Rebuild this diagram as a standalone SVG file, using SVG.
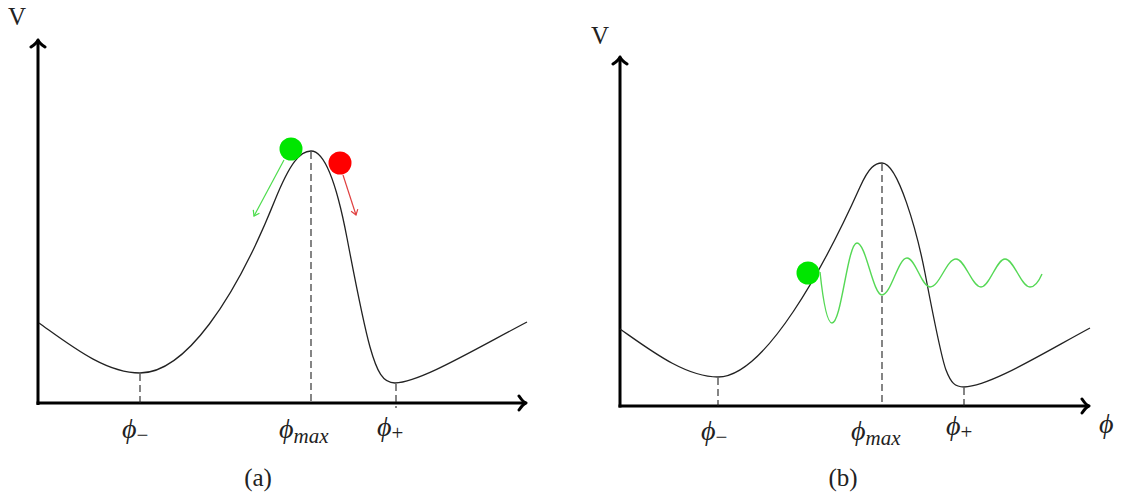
<svg xmlns="http://www.w3.org/2000/svg" width="1129" height="492" viewBox="0 0 1129 492">
<style>
.axis{stroke:#000;stroke-width:3;fill:none}
.curve{stroke:#222;stroke-width:1.3;fill:none}
.dash{stroke:#222;stroke-width:1.1;stroke-dasharray:7 4;fill:none}
.lbl{font-family:"Liberation Serif","DejaVu Serif",serif;fill:#222}
.phi{font-size:28px;font-style:italic;font-family:"Liberation Serif","DejaVu Serif",serif}
.sub{font-size:21px;font-style:normal;font-family:"Liberation Serif","DejaVu Serif",serif}
.subi{font-size:21px;font-style:italic;font-family:"Liberation Serif","DejaVu Serif",serif}
.cap{font-size:25px}
.V{font-size:25px}
</style>
<defs>
<marker id="ax" viewBox="-10 -9 12 18" markerWidth="12" markerHeight="18" refX="0" refY="0" orient="auto" markerUnits="userSpaceOnUse">
<path d="M -7 -7 Q -3 -1 0 0 Q -3 1 -7 7" stroke="#000" stroke-width="3" fill="none" stroke-linecap="round" stroke-linejoin="round"/>
</marker>
<marker id="ga" viewBox="-7 -5 8 10" markerWidth="8" markerHeight="10" refX="0" refY="0" orient="auto" markerUnits="userSpaceOnUse">
<path d="M -5 -3.5 L 0 0 L -5 3.5" stroke="#4cdc4c" stroke-width="1.2" fill="none"/>
</marker>
<marker id="ra" viewBox="-7 -5 8 10" markerWidth="8" markerHeight="10" refX="0" refY="0" orient="auto" markerUnits="userSpaceOnUse">
<path d="M -5 -3.5 L 0 0 L -5 3.5" stroke="#e04040" stroke-width="1.2" fill="none"/>
</marker>
</defs>

<g id="panel-a">
  <g id="axes-a">
    <line class="axis" x1="38" y1="405" x2="38" y2="40" marker-end="url(#ax)"/>
    <line class="axis" x1="36.5" y1="403" x2="526" y2="403" marker-end="url(#ax)"/>
    <text class="lbl V" x="8" y="25">V</text>
  </g>
  <g id="potential-a">
    <path class="curve" d="M 39 323 C 70 345 105 373 140 373 C 185 373 235 300 275 200 C 290 163 300 151 311 151 C 327 151 339 196 347 238 C 355 280 363 322 370 347 C 377 372 383 383 395 383 C 420 382 470 352 527 322"/>
  </g>
  <g id="markers-a">
    <line class="dash" x1="140" y1="374" x2="140" y2="403"/>
    <line class="dash" x1="311" y1="152" x2="311" y2="403"/>
    <line class="dash" x1="396" y1="384" x2="396" y2="408"/>
  </g>
  <g id="labels-a" class="lbl">
    <text x="122" y="438"><tspan class="phi">ϕ</tspan><tspan class="sub" dy="4">−</tspan></text>
    <text x="279" y="438"><tspan class="phi">ϕ</tspan><tspan class="subi" dy="5">max</tspan></text>
    <text x="377" y="436"><tspan class="phi">ϕ</tspan><tspan class="sub" dy="4">+</tspan></text>
    <text class="cap" x="258" y="486" text-anchor="middle">(a)</text>
  </g>
  <g id="ball-green-a">
    <circle cx="291" cy="149" r="11.5" fill="#00e600"/>
  </g>
  <g id="ball-red-a">
    <circle cx="340" cy="163" r="11.5" fill="#ff0000"/>
  </g>
  <g id="connectors-a">
    <line x1="284" y1="160" x2="254" y2="216" stroke="#4cdc4c" stroke-width="1.2" marker-end="url(#ga)"/>
    <line x1="343" y1="175" x2="356" y2="215" stroke="#e04040" stroke-width="1.2" marker-end="url(#ra)"/>
  </g>
</g>

<g id="panel-b">
  <g id="axes-b">
    <line class="axis" x1="620" y1="407.5" x2="620" y2="57" marker-end="url(#ax)"/>
    <line class="axis" x1="618.5" y1="406" x2="1089" y2="406" marker-end="url(#ax)"/>
    <text class="lbl V" x="591" y="44">V</text>
  </g>
  <g id="potential-b">
    <path class="curve" d="M 620 329 C 650 350 685 377 718 377 C 765 377 825 265 860 187 C 869 167 875 163 882 163 C 898 163 917 232 925 273 C 933 315 941 357 946 370 C 951 383 955 387 964 387 C 990 386 1040 355 1090 328"/>
  </g>
  <g id="markers-b">
    <line class="dash" x1="718" y1="378" x2="718" y2="406"/>
    <line class="dash" x1="882" y1="164" x2="882" y2="406"/>
    <line class="dash" x1="964" y1="388" x2="964" y2="410"/>
  </g>
  <g id="labels-b" class="lbl">
    <text x="701" y="440"><tspan class="phi">ϕ</tspan><tspan class="sub" dy="4">−</tspan></text>
    <text x="851" y="440"><tspan class="phi">ϕ</tspan><tspan class="subi" dy="5">max</tspan></text>
    <text x="946" y="435"><tspan class="phi">ϕ</tspan><tspan class="sub" dy="4">+</tspan></text>
    <text x="1099" y="433"><tspan class="phi">ϕ</tspan></text>
    <text class="cap" x="843" y="486" text-anchor="middle">(b)</text>
  </g>
  <g id="ball-green-b">
    <circle cx="808" cy="273" r="11.5" fill="#00e600"/>
  </g>
  <g id="wave-b">
    <path fill="none" stroke="#55d855" stroke-width="1.4" d="M 820 272 C 823 300 827 323 832 323 C 841.5 323 847.5 243 857 243 C 866 243 873 295 882 295 C 891 295 898 258 907 258 C 915.5 258 921.5 287 930 287 C 939.5 287 946.5 259 956 259 C 965 259 972 287 981 287 C 989.5 287 996.5 259 1005 259 C 1014 259 1021 287 1030 287 C 1035 287 1039 281 1042 274"/>
  </g>
</g>
</svg>
